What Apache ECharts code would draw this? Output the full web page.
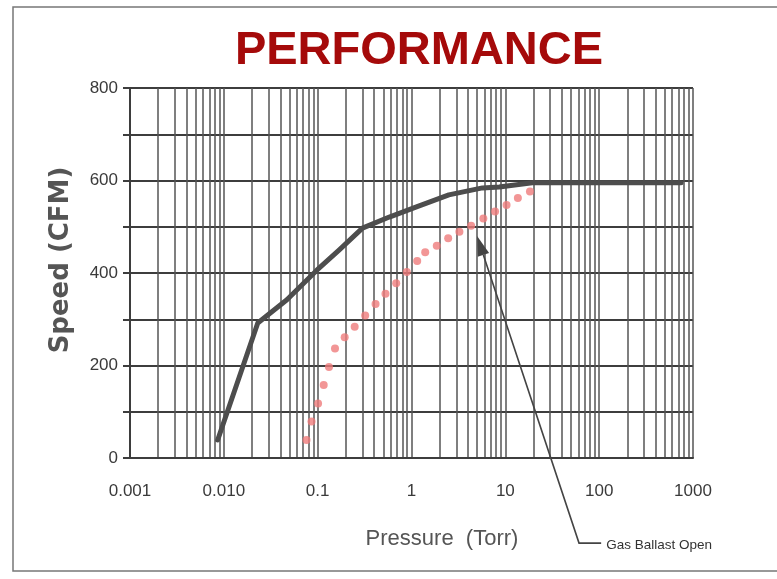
<!DOCTYPE html>
<html><head><meta charset="utf-8">
<script src="https://cdn.jsdelivr.net/npm/echarts@6/dist/echarts.min.js"></script>
<style>html,body{margin:0;padding:0;background:#fff}#c{width:777px;height:579px}</style>
</head><body><div id="c"></div>
<script>
// ---- data ----
const pressureTicks = [0.001, 0.01, 0.1, 1, 10, 100, 1000];
const tickLabels = ['0.001', '0.010', '0.1', '1', '10', '100', '1000'];
const speedTicks = [0, 200, 400, 600, 800];
const minorMultipliers = [2, 3, 4, 5, 6, 7, 8, 9];

const basePressure = [0.0086, 0.023, 0.047, 0.098, 0.17, 0.30, 0.58, 1.13, 2.5, 5.7, 8.6, 19.4, 745];
const baseSpeed    = [39, 292, 342, 406, 450, 497, 521, 543, 569, 584, 586, 595, 595];

const ballastPressure = [0.076, 0.086, 0.101, 0.116, 0.132, 0.153, 0.194, 0.248, 0.321, 0.414, 0.528, 0.687,
                         0.891, 1.15, 1.40, 1.86, 2.46, 3.24, 4.32, 5.83, 7.77, 10.3, 13.6, 18.3];
const ballastSpeed    = [39, 79, 118, 158, 197, 237, 261, 284, 308, 333, 355, 378,
                         402, 426, 445, 459, 475, 489, 502, 518, 533, 547, 562, 576];

const arrowTip = [5.0, 480];
const arrowElbow = [61, -184];
const arrowEnd = [105, -184];
const arrowText = 'Gas Ballast Open';

// ---- build ----
const narrow = '"Liberation Sans Narrow", "Arial Narrow", "Liberation Sans", sans-serif';
const gridValues = [];
pressureTicks.forEach((d, k) => {
  gridValues.push(d);
  if (k < pressureTicks.length - 1) minorMultipliers.forEach(m => gridValues.push(+(d * m).toPrecision(6)));
});

const chart = echarts.init(document.getElementById('c'), null, { renderer: 'canvas' });
const frame = { type: 'rect', z: 0, silent: true, shape: { x: 13, y: 7, width: 790, height: 564 },
  style: { fill: 'none', stroke: '#777', lineWidth: 1.5 } };
chart.setOption({
  backgroundColor: '#fff',
  animation: false,
  title: {
    text: 'PERFORMANCE', left: 414, top: 23, textAlign: 'center',
    textStyle: { color: '#a50a0a', fontSize: 47, fontWeight: 'bold', fontFamily: '"Liberation Sans", Arial, sans-serif' }
  },
  grid: { left: 130, right: 84, top: 88, bottom: 121, containLabel: false },
  xAxis: {
    type: 'log', logBase: 10, min: 0.001, max: 1000,
    name: 'Pressure  (Torr)', nameLocation: 'middle', nameGap: 70,
    nameTextStyle: { fontFamily: narrow, fontSize: 22, color: '#555', padding: [0, 0, 0, 61] },
    axisLine: { show: true, lineStyle: { color: '#3d3d3d', width: 2 } },
    axisTick: { show: false, customValues: gridValues },
    splitLine: { show: true, lineStyle: { color: '#555', width: 1.5 } },
    minorTick: { show: false }, minorSplitLine: { show: false },
    axisLabel: {
      margin: 25, fontFamily: narrow, fontSize: 17, color: '#3a3a3a', customValues: pressureTicks,
      formatter: v => {
        const i = pressureTicks.findIndex(t => Math.abs(Math.log10(v) - Math.log10(t)) < 0.01);
        return i >= 0 ? tickLabels[i] : '';
      }
    }
  },
  yAxis: {
    type: 'value', min: 0, max: 800, interval: 100,
    name: 'Speed (CFM)', nameLocation: 'middle', nameGap: 56,
    nameTextStyle: { fontFamily: '"DejaVu Sans", sans-serif', fontWeight: 'bold', fontSize: 26, color: '#555', padding: [0, 0, 0, 26] },
    axisLine: { show: true, lineStyle: { color: '#3d3d3d', width: 2 } },
    axisTick: { show: true, length: 7, lineStyle: { color: '#3d3d3d', width: 2 } },
    splitLine: { show: true, lineStyle: { color: '#3d3d3d', width: 2 } },
    axisLabel: {
      margin: 12, fontFamily: narrow, fontSize: 17, color: '#3a3a3a',
      formatter: v => speedTicks.indexOf(v) >= 0 ? String(v) : ''
    }
  },
  series: [
    {
      name: 'Standard', type: 'line', z: 3, showSymbol: false, symbol: 'none',
      lineStyle: { color: '#4d4d4d', width: 5, cap: 'round', join: 'round' },
      data: basePressure.map((p, i) => [p, baseSpeed[i]])
    },
    {
      name: 'Gas Ballast Open', type: 'scatter', z: 4, symbolSize: 8,
      itemStyle: { color: '#ef7c7c' },
      data: ballastPressure.map((p, i) => [p, ballastSpeed[i]])
    }
  ],
  graphic: [frame]
});

// annotation arrow, positioned through the chart's own scales
const toPx = v => chart.convertToPixel({ xAxisIndex: 0, yAxisIndex: 0 }, v);
const T = toPx(arrowTip), E = toPx(arrowElbow), N = toPx(arrowEnd);
const dx = T[0] - E[0], dy = T[1] - E[1], len = Math.hypot(dx, dy);
const ux = dx / len, uy = dy / len, L = 20, W = 6;
const bx = T[0] - ux * L, by = T[1] - uy * L;
chart.setOption({
  graphic: [
    frame,
    { type: 'polyline', z: 10, silent: true,
      shape: { points: [[bx, by], E, N] },
      style: { stroke: '#444', lineWidth: 1.6, fill: 'none' } },
    { type: 'polygon', z: 10, silent: true,
      shape: { points: [T, [bx - uy * W, by + ux * W], [bx + uy * W, by - ux * W]] },
      style: { fill: '#444' } },
    { type: 'text', z: 10, silent: true, x: N[0] + 5, y: N[1] + 2,
      style: { text: arrowText, fontFamily: narrow, fontSize: 13.5, fill: '#333', align: 'left', verticalAlign: 'middle' } }
  ]
});
</script>
</body></html>
